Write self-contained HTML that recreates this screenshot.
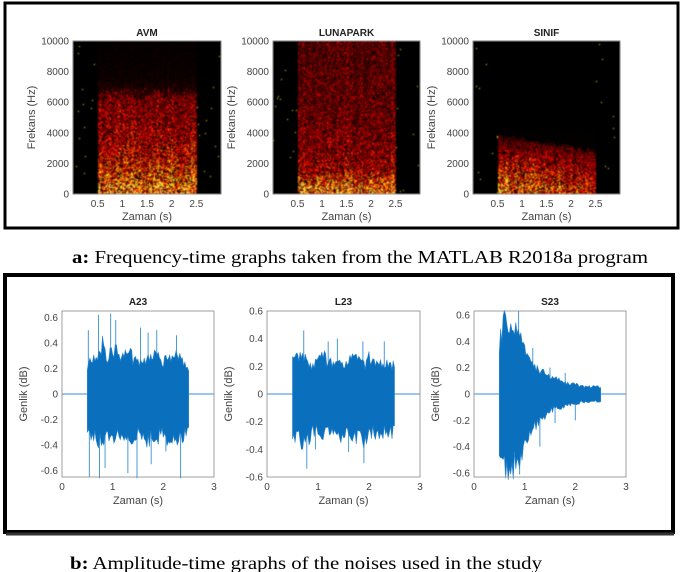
<!DOCTYPE html>
<html><head><meta charset="utf-8">
<style>
html,body{margin:0;padding:0;background:#fff;}
#wrap{position:relative;width:685px;height:572px;overflow:hidden;background:#fff;}
canvas{position:absolute;filter:blur(0.6px);}
svg{position:absolute;left:0;top:0;}
text{font-family:"Liberation Sans",sans-serif;}
.tk{font-size:10px;fill:#444;}
.ttl{font-size:10px;font-weight:bold;fill:#222;}
.lab{font-size:11px;fill:#444;}
.cap{font-family:"Liberation Serif",serif;font-size:17.5px;fill:#000;}
</style></head>
<body>
<div id="wrap">
<canvas id="sp0" style="left:73px;top:41px" width="148" height="153"></canvas>
<canvas id="sp1" style="left:273px;top:41px" width="147" height="153"></canvas>
<canvas id="sp2" style="left:473px;top:41px" width="147" height="153"></canvas>
<svg id="svg" width="685" height="572">
<rect x="5" y="3" width="673" height="225" fill="none" stroke="#000" stroke-width="3"/>
<rect x="5" y="275" width="668" height="257" fill="none" stroke="#000" stroke-width="4"/>
<line x1="6" y1="534" x2="674" y2="534" stroke="#333" stroke-width="3"/>
<text class="cap" x="72" y="263" textLength="576" lengthAdjust="spacingAndGlyphs"><tspan font-weight="bold">a:</tspan> Frequency-time graphs taken from the MATLAB R2018a program</text>
<text class="cap" x="70" y="569" textLength="472" lengthAdjust="spacingAndGlyphs"><tspan font-weight="bold">b:</tspan> Amplitude-time graphs of the noises used in the study</text>
</svg>
</div>
<script>
// ---- Spectrogram data ----
const specTitles = ["AVM","LUNAPARK","SINIF"];
const freqTicks = [0,2000,4000,6000,8000,10000];
const specTimeTicks = [0.5,1,1.5,2,2.5];
// intensity per 1 kHz band (0-1k ... 9-10k)
const avmProfile = [0.95,0.66,0.52,0.44,0.4,0.36,0.3,0.12,0.07,0.05];
const lunaProfile = [0.88,0.45,0.38,0.33,0.3,0.28,0.27,0.26,0.25,0.24];
const sinifProfile = [0.85,0.6,0.42,0.18,0.03,0.0,0.0,0.0,0.0,0.0];
// gain by time at 0.5,1.0,1.5,2.0,2.5 s
const avmTimeGain = [1.0,1.0,1.0,1.0,1.0];
const lunaTimeGain = [1.0,1.0,1.0,1.0,1.0];
const sinifTimeGain = [1.05,0.95,0.8,0.72,0.7];
// ---- Waveform data (envelope every 0.1 s from 0.5 to 2.5 s) ----
const waveTitles = ["A23","L23","S23"];
const a23Top = [0.22,0.3,0.34,0.42,0.3,0.36,0.38,0.3,0.36,0.3,0.28,0.32,0.3,0.35,0.3,0.28,0.36,0.3,0.34,0.26,0.23];
const a23Bot = [-0.3,-0.36,-0.4,-0.38,-0.34,-0.42,-0.36,-0.34,-0.4,-0.44,-0.32,-0.36,-0.4,-0.34,-0.36,-0.33,-0.38,-0.35,-0.42,-0.34,-0.3];
const a23Spikes = [[0.52,0.5],[0.54,-0.65],[0.72,0.62],[0.74,-0.66],[0.96,0.63],[1.06,0.58],[1.3,-0.62],[1.48,-0.66],[1.55,0.52],[1.76,-0.55],[1.87,0.5],[2.05,-0.45],[2.34,-0.66],[2.26,0.46],[0.85,-0.58],[1.7,0.48]];
const l23Top = [0.25,0.28,0.3,0.26,0.22,0.28,0.3,0.24,0.25,0.28,0.22,0.26,0.3,0.26,0.22,0.28,0.24,0.22,0.25,0.22,0.22];
const l23Bot = [-0.3,-0.34,-0.38,-0.36,-0.28,-0.3,-0.34,-0.28,-0.3,-0.36,-0.32,-0.3,-0.36,-0.34,-0.38,-0.3,-0.3,-0.32,-0.3,-0.3,-0.3];
const l23Spikes = [[0.72,0.46],[0.78,-0.54],[1.2,0.38],[1.38,0.4],[1.6,-0.42],[1.88,0.38],[1.9,-0.5],[2.3,0.38],[0.95,-0.4]];
const s23Top = [0.4,0.62,0.6,0.55,0.48,0.35,0.28,0.22,0.2,0.16,0.14,0.12,0.12,0.1,0.08,0.08,0.07,0.06,0.06,0.06,0.06];
const s23Bot = [-0.45,-0.6,-0.62,-0.58,-0.52,-0.4,-0.3,-0.26,-0.22,-0.18,-0.14,-0.12,-0.11,-0.1,-0.09,-0.08,-0.07,-0.07,-0.06,-0.06,-0.06];
const s23Spikes = [[0.6,0.63],[0.62,-0.61],[0.88,0.63],[0.9,-0.61],[1.16,0.35],[1.3,-0.4],[1.5,0.2],[1.6,-0.22],[1.8,0.16],[2.0,-0.2]];

const NS = "http://www.w3.org/2000/svg";
const svg = document.getElementById('svg');
function mk(tag, attrs, parent){const e=document.createElementNS(NS,tag);for(const k in attrs)e.setAttribute(k,attrs[k]);(parent||svg).appendChild(e);return e;}
function hash(i,j,s){let h=(i*374761393+j*668265263+s*2147483647)|0;h=(h^(h>>>13))*1274126177|0;h=h^(h>>>16);return ((h>>>0)%10000)/10000;}
function hot(v){v=Math.max(0,Math.min(1,v));const r=Math.min(1,v*2.4),g=Math.min(1,Math.max(0,v*2.4-1)),b=Math.min(1,Math.max(0,v*2.4-2));return [r*255,g*255,b*255];}
function interp(arr,x){const i=Math.max(0,Math.min(arr.length-1,x));const a=Math.floor(i),b=Math.min(arr.length-1,a+1);return arr[a]+(arr[b]-arr[a])*(i-a);}

const specProfiles=[avmProfile,lunaProfile,sinifProfile];
const specGains=[avmTimeGain,lunaTimeGain,sinifTimeGain];
const specX=[73,273,473],specW=[148,147,147],specY=41,specH=153;
for(let p=0;p<3;p++){
  const cv=document.getElementById('sp'+p),ctx=cv.getContext('2d');
  const W=cv.width,H=cv.height;const img=ctx.createImageData(W,H);
  for(let x=0;x<W;x++){
    const t=x/W*3;
    const colTop=(p===0)?6.2+0.9*hash(x,11,p):(p===2?3.7-(t-0.5)*0.55+0.35*hash(Math.floor(x/2),13,p):10);
    for(let y=0;y<H;y++){
      let v=0;
      if(t>=0.5&&t<=2.5){
        const f=(1-y/H)*10;
        const g=interp(specGains[p],(t-0.5)/0.5);
        const base=interp(specProfiles[p],f-0.5)*g;
        const n=hash(x,y,p);const n2=hash(Math.floor(x/2),7,p);
        v=base*Math.pow(n,1.4)*1.35*(0.8+0.4*n2);
        if(f>colTop) v*=(p===0?0.35:0.08);
      } else { if(hash(x,y,p+9)>0.997) v=0.9; }
      const c=hot(v);const k=(y*W+x)*4;
      img.data[k]=c[0];img.data[k+1]=c[1];img.data[k+2]=c[2];img.data[k+3]=255;
    }
  }
  ctx.putImageData(img,0,0);
  const x0=specX[p],w=specW[p];
  mk('rect',{x:x0,y:specY,width:w,height:specH,fill:'none',stroke:'#888','stroke-width':0.8,});
  const tt=mk('text',{class:'ttl',x:x0+w/2,y:36,'text-anchor':'middle'});tt.textContent=specTitles[p];
  
  
  freqTicks.forEach(f=>{const y=specY+specH-f/10000*specH;const t=mk('text',{class:'tk',x:x0-4,y:y+3.5,'text-anchor':'end'});t.textContent=f;
    
    });
  specTimeTicks.forEach(s=>{const x=x0+s/3*w;const t=mk('text',{class:'tk',x:x,y:207,'text-anchor':'middle'});t.textContent=s;
    
    });
  const xl=mk('text',{class:'lab',x:x0+w/2,y:220,'text-anchor':'middle'});xl.textContent='Zaman (s)';
  
  
  const yl=mk('text',{class:'lab',x:0,y:0,'text-anchor':'middle',transform:`translate(${x0-38},${specY+specH/2}) rotate(-90)`});yl.textContent='Frekans (Hz)';
  
  
}

// waveforms
const wTops=[a23Top,l23Top,s23Top],wBots=[a23Bot,l23Bot,s23Bot],wSpikes=[a23Spikes,l23Spikes,s23Spikes];
const wX=[62,267,474],wW=[152,153,152],wY=311,wH=166,wLim=[0.65,0.6,0.63];
const ampTicks=[-0.6,-0.4,-0.2,0,0.2,0.4,0.6],wTimeTicks=[0,1,2,3];
for(let p=0;p<3;p++){
  const x0=wX[p],w=wW[p],L=wLim[p];
  const sx=t=>x0+t/3*w, sy=v=>wY+wH/2-v/L*(wH/2);
  const g=mk('g',{});
  mk('line',{x1:x0,y1:sy(0),x2:x0+w,y2:sy(0),stroke:'#3a8fd0','stroke-width':1},g);
  wSpikes[p].forEach(s=>{const l=mk('line',{x1:sx(s[0]),y1:sy(0),x2:sx(s[0]),y2:sy(s[1]),stroke:'#4a9ad8','stroke-width':1},g);
    
    });
  const top=wTops[p],bot=wBots[p];let pts=[];
  const N=80;
  for(let i=0;i<=N;i++){const t=0.5+2*i/N;const v=interp(top,(t-0.5)/0.1)*(0.75+0.35*hash(i,3,p));pts.push(sx(t).toFixed(1)+','+sy(v).toFixed(1));}
  for(let i=N;i>=0;i--){const t=0.5+2*i/N;const v=interp(bot,(t-0.5)/0.1)*(0.75+0.35*hash(i,5,p));pts.push(sx(t).toFixed(1)+','+sy(v).toFixed(1));}
  const body=mk('polygon',{points:pts.join(' '),fill:'#0a6fbd',stroke:'#2f86cc','stroke-width':0.6},g);
  
  
  mk('rect',{x:x0,y:wY,width:w,height:wH,fill:'none',stroke:'#888','stroke-width':0.8,});
  const tt=mk('text',{class:'ttl',x:x0+w/2,y:305,'text-anchor':'middle'});tt.textContent=waveTitles[p];
  
  
  ampTicks.forEach(a=>{const t=mk('text',{class:'tk',x:x0-4,y:sy(a)+3.5,'text-anchor':'end'});t.textContent=a===0?'0':a.toFixed(1);
    
    });
  wTimeTicks.forEach(s=>{const t=mk('text',{class:'tk',x:sx(s),y:490,'text-anchor':'middle'});t.textContent=s;
    
    });
  const xl=mk('text',{class:'lab',x:x0+w/2,y:504,'text-anchor':'middle'});xl.textContent='Zaman (s)';
  
  
  const yl=mk('text',{class:'lab',x:0,y:0,'text-anchor':'middle',transform:`translate(${x0-35},${wY+wH/2}) rotate(-90)`});yl.textContent='Genlik (dB)';
  
  
}
</script>
</body></html>
